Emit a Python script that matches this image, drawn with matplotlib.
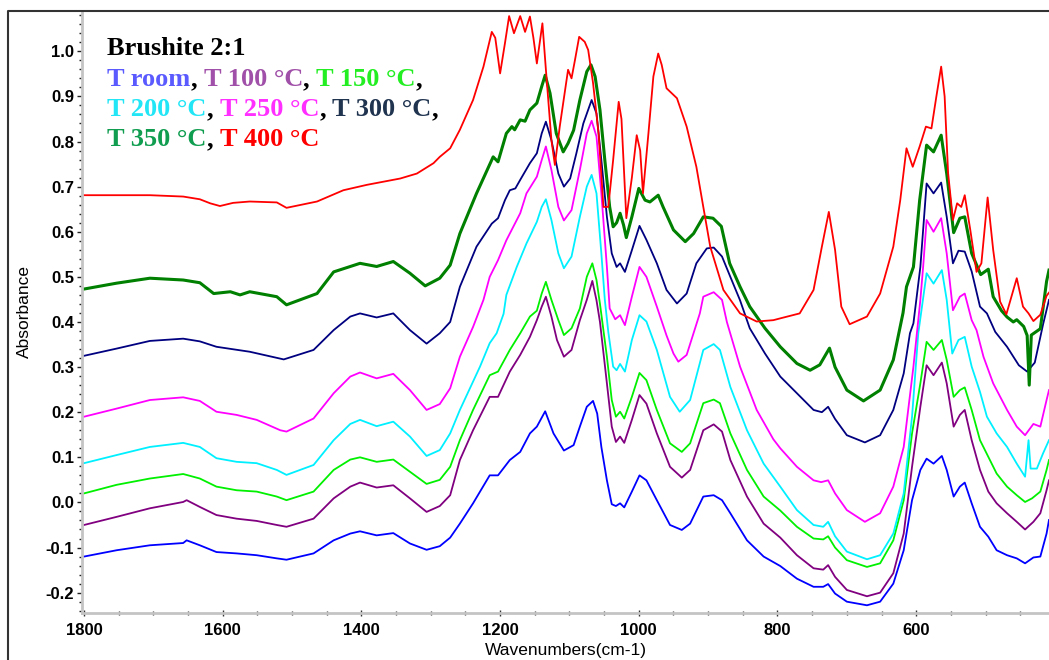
import matplotlib
matplotlib.use("Agg")
import matplotlib.pyplot as plt
from matplotlib.ticker import MultipleLocator, FormatStrFormatter
from matplotlib.lines import Line2D

plt.rcParams["axes.unicode_minus"] = False

# ---- spectra (wavenumber cm-1, absorbance) ----
wn_room = [1800, 1753, 1705, 1657, 1652, 1633, 1609, 1580, 1551, 1522, 1508, 1469, 1440, 1416, 1402,
           1378, 1354, 1330, 1306, 1287, 1272, 1258, 1239, 1215, 1203, 1186, 1171, 1157, 1147, 1135,
           1123, 1108, 1094, 1085, 1075, 1066, 1060, 1054, 1046, 1039, 1033, 1027, 1021, 1010, 999,
           989, 974, 955, 938, 926, 907, 892, 880, 868, 844, 820, 796, 772, 748, 734, 727, 717, 700,
           671, 652, 633, 618, 606, 594, 585, 575, 563, 556, 546, 537, 530, 520, 508, 496, 484, 469,
           455, 443, 431, 421, 412, 408.5]
ab_room = [-0.120, -0.106, -0.095, -0.090, -0.084, -0.095, -0.110, -0.113, -0.117, -0.124, -0.127,
           -0.113, -0.084, -0.069, -0.064, -0.073, -0.068, -0.091, -0.105, -0.097, -0.078, -0.047,
           -0.002, 0.060, 0.060, 0.094, 0.112, 0.153, 0.168, 0.202, 0.153, 0.115, 0.127, 0.168, 0.212,
           0.225, 0.197, 0.123, 0.049, -0.004, -0.008, -0.002, -0.011, 0.024, 0.060, 0.049, 0.005,
           -0.050, -0.061, -0.047, 0.013, 0.016, 0.005, -0.024, -0.084, -0.120, -0.141, -0.169, -0.187,
           -0.187, -0.181, -0.202, -0.220, -0.228, -0.220, -0.180, -0.106, 0.005, 0.072, 0.097, 0.086,
           0.103, 0.072, 0.013, 0.035, 0.044, -0.002, -0.054, -0.076, -0.106, -0.117, -0.124, -0.135,
           -0.122, -0.120, -0.069, -0.039]

wn_100 = [1800, 1753, 1705, 1657, 1652, 1633, 1609, 1580, 1551, 1522, 1508, 1469, 1440, 1416, 1402,
          1378, 1354, 1330, 1306, 1287, 1272, 1258, 1239, 1215, 1203, 1186, 1171, 1157, 1147, 1140,
          1134, 1126, 1118, 1108, 1097, 1085, 1075, 1067, 1061, 1056, 1046, 1039, 1033, 1027, 1021,
          1010, 999, 989, 974, 955, 938, 926, 907, 892, 880, 868, 844, 820, 796, 772, 748, 734, 727,
          717, 700, 671, 652, 633, 618, 606, 594, 585, 575, 563, 556, 546, 537, 530, 520, 508, 496,
          484, 469, 455, 443, 431, 421, 412, 408.5]
ab_100 = [-0.050, -0.032, -0.013, 0.001, 0.005, -0.010, -0.028, -0.036, -0.041, -0.050, -0.054,
          -0.036, 0.009, 0.035, 0.044, 0.033, 0.038, 0.009, -0.021, -0.008, 0.016, 0.094, 0.160,
          0.234, 0.234, 0.290, 0.327, 0.367, 0.404, 0.434, 0.456, 0.412, 0.360, 0.323, 0.338, 0.404,
          0.449, 0.491, 0.448, 0.400, 0.264, 0.168, 0.134, 0.146, 0.132, 0.183, 0.238, 0.219, 0.153,
          0.079, 0.055, 0.072, 0.160, 0.173, 0.157, 0.094, 0.013, -0.047, -0.078, -0.117, -0.146,
          -0.149, -0.139, -0.165, -0.194, -0.208, -0.200, -0.157, -0.069, 0.079, 0.212, 0.304, 0.282,
          0.310, 0.264, 0.168, 0.194, 0.205, 0.138, 0.072, 0.024, -0.002, -0.024, -0.043, -0.060,
          -0.043, -0.024, 0.027, 0.049]

wn_150 = [1800, 1753, 1705, 1657, 1633, 1609, 1580, 1551, 1522, 1508, 1469, 1440, 1416, 1402, 1378,
          1354, 1330, 1306, 1287, 1272, 1258, 1239, 1215, 1203, 1186, 1171, 1157, 1147, 1140, 1134,
          1126, 1116, 1108, 1097, 1085, 1075, 1067, 1061, 1056, 1046, 1039, 1033, 1027, 1021, 1010,
          999, 989, 974, 955, 938, 926, 907, 892, 883, 868, 844, 820, 796, 772, 748, 734, 727, 717,
          700, 671, 652, 633, 618, 606, 594, 585, 575, 563, 556, 546, 537, 530, 520, 508, 496, 484,
          469, 455, 443, 433, 421, 412, 408.5]
ab_150 = [0.020, 0.039, 0.053, 0.063, 0.053, 0.035, 0.027, 0.024, 0.013, 0.005, 0.024, 0.072, 0.095,
          0.100, 0.090, 0.095, 0.068, 0.041, 0.050, 0.079, 0.138, 0.205, 0.282, 0.290, 0.338, 0.375,
          0.412, 0.425, 0.463, 0.489, 0.449, 0.404, 0.371, 0.386, 0.430, 0.500, 0.530, 0.493, 0.440,
          0.323, 0.227, 0.190, 0.201, 0.186, 0.234, 0.287, 0.271, 0.205, 0.131, 0.112, 0.131, 0.220,
          0.228, 0.220, 0.153, 0.072, 0.013, -0.018, -0.054, -0.080, -0.082, -0.075, -0.100, -0.128,
          -0.143, -0.135, -0.084, 0.005, 0.153, 0.264, 0.356, 0.338, 0.360, 0.316, 0.234, 0.249, 0.255,
          0.205, 0.138, 0.101, 0.064, 0.035, 0.016, 0.001, 0.009, 0.024, 0.072, 0.094]

wn_200 = [1800, 1753, 1705, 1657, 1633, 1609, 1580, 1551, 1522, 1508, 1469, 1440, 1416, 1402, 1378,
          1354, 1330, 1306, 1287, 1272, 1258, 1229, 1215, 1205, 1195, 1191, 1176, 1162, 1147, 1140,
          1134, 1126, 1116, 1108, 1097, 1085, 1075, 1068, 1061, 1054, 1049, 1044, 1037, 1032, 1027,
          1020, 1010, 999, 989, 974, 955, 941, 926, 907, 892, 883, 868, 844, 820, 796, 772, 748, 734,
          727, 717, 700, 671, 652, 633, 618, 606, 597, 585, 575, 563, 556, 548, 539, 530, 520, 508,
          498, 484, 469, 455, 443, 438, 435, 426, 417, 408.5]
ab_200 = [0.087, 0.105, 0.123, 0.132, 0.123, 0.098, 0.090, 0.087, 0.072, 0.061, 0.083, 0.138, 0.174,
          0.183, 0.169, 0.179, 0.146, 0.103, 0.116, 0.153, 0.205, 0.301, 0.353, 0.375, 0.418, 0.460,
          0.522, 0.574, 0.622, 0.655, 0.672, 0.626, 0.552, 0.519, 0.545, 0.633, 0.700, 0.726, 0.685,
          0.552, 0.449, 0.378, 0.301, 0.293, 0.307, 0.290, 0.360, 0.415, 0.401, 0.338, 0.234, 0.201,
          0.227, 0.338, 0.351, 0.338, 0.256, 0.160, 0.086, 0.035, -0.017, -0.050, -0.054, -0.043,
          -0.075, -0.109, -0.126, -0.117, -0.069, 0.020, 0.190, 0.375, 0.508, 0.485, 0.515, 0.449,
          0.330, 0.360, 0.367, 0.301, 0.245, 0.190, 0.153, 0.123, 0.086, 0.057, 0.138, 0.075, 0.075,
          0.109, 0.138]

wn_250 = [1800, 1753, 1705, 1657, 1633, 1609, 1580, 1551, 1517, 1508, 1469, 1440, 1416, 1402, 1378,
          1354, 1330, 1306, 1287, 1272, 1258, 1239, 1224, 1215, 1203, 1191, 1181, 1171, 1162, 1147,
          1140, 1134, 1126, 1116, 1108, 1097, 1085, 1075, 1068, 1061, 1054, 1046, 1042, 1034, 1027,
          1020, 1010, 999, 989, 974, 960, 950, 943, 931, 912, 907, 892, 880, 873, 854, 830, 806, 796,
          772, 748, 737, 727, 717, 700, 674, 652, 633, 618, 604, 594, 590, 585, 575, 564, 556, 547,
          537, 530, 520, 513, 503, 489, 469, 455, 443, 431, 421, 412, 408.5]
ab_250 = [0.190, 0.208, 0.227, 0.233, 0.225, 0.201, 0.194, 0.183, 0.160, 0.157, 0.186, 0.242, 0.279,
          0.288, 0.275, 0.285, 0.249, 0.205, 0.218, 0.253, 0.323, 0.389, 0.449, 0.500, 0.537, 0.581,
          0.611, 0.641, 0.685, 0.722, 0.759, 0.789, 0.737, 0.655, 0.625, 0.648, 0.737, 0.818, 0.846,
          0.811, 0.685, 0.522, 0.430, 0.406, 0.415, 0.393, 0.456, 0.522, 0.500, 0.434, 0.370, 0.330,
          0.312, 0.327, 0.419, 0.456, 0.466, 0.449, 0.400, 0.301, 0.205, 0.140, 0.120, 0.079, 0.049,
          0.045, 0.049, 0.020, -0.017, -0.043, -0.024, 0.035, 0.123, 0.301, 0.449, 0.522, 0.626, 0.600,
          0.630, 0.552, 0.426, 0.456, 0.463, 0.404, 0.382, 0.323, 0.264, 0.205, 0.168, 0.149, 0.174,
          0.168, 0.227, 0.249]

wn_300 = [1800, 1753, 1705, 1657, 1633, 1609, 1561, 1512, 1469, 1440, 1416, 1402, 1378, 1354, 1330,
          1306, 1287, 1272, 1258, 1234, 1212, 1203, 1193, 1186, 1178, 1171, 1157, 1147, 1140, 1134,
          1126, 1116, 1108, 1099, 1090, 1080, 1068, 1061, 1054, 1046, 1039, 1032, 1027, 1020, 1010,
          999, 989, 974, 960, 945, 931, 917, 902, 892, 880, 868, 854, 840, 818, 796, 772, 748, 736,
          727, 717, 700, 674, 652, 633, 618, 609, 604, 594, 585, 575, 564, 556, 547, 539, 530, 520,
          508, 498, 486, 469, 452, 440, 429, 417, 408.5]
ab_300 = [0.325, 0.341, 0.358, 0.363, 0.357, 0.345, 0.334, 0.317, 0.338, 0.382, 0.412, 0.419, 0.410,
          0.419, 0.382, 0.352, 0.375, 0.400, 0.478, 0.567, 0.618, 0.630, 0.670, 0.692, 0.696, 0.715,
          0.752, 0.774, 0.818, 0.844, 0.803, 0.729, 0.700, 0.718, 0.774, 0.840, 0.892, 0.862, 0.759,
          0.633, 0.552, 0.522, 0.530, 0.511, 0.559, 0.613, 0.582, 0.530, 0.471, 0.441, 0.463, 0.530,
          0.563, 0.565, 0.545, 0.500, 0.448, 0.386, 0.330, 0.279, 0.242, 0.205, 0.200, 0.212, 0.185,
          0.149, 0.133, 0.149, 0.205, 0.286, 0.375, 0.397, 0.522, 0.707, 0.685, 0.709, 0.633, 0.530,
          0.558, 0.556, 0.512, 0.434, 0.419, 0.378, 0.345, 0.304, 0.290, 0.310, 0.395, 0.449]

wn_350 = [1800, 1753, 1705, 1657, 1633, 1613, 1589, 1575, 1561, 1522, 1508, 1464, 1440, 1402, 1378,
          1354, 1330, 1308, 1287, 1272, 1258, 1234, 1210, 1203, 1191, 1183, 1179, 1171, 1164, 1157,
          1147, 1140, 1135, 1128, 1119, 1109, 1102, 1094, 1085, 1075, 1069, 1063, 1056, 1049, 1042,
          1037, 1032, 1027, 1022, 1018, 1010, 1000, 991, 984, 972, 965, 950, 933, 921, 907, 893, 881,
          869, 854, 840, 818, 796, 772, 753, 739, 725, 717, 700, 676, 652, 633, 619, 614, 604, 595,
          585, 575, 564, 556, 546, 537, 530, 520, 507, 496, 489, 477, 469, 460, 455, 445, 440, 437,
          434, 421, 412, 408.5]
ab_350 = [0.473, 0.486, 0.497, 0.493, 0.487, 0.463, 0.467, 0.460, 0.467, 0.456, 0.438, 0.463, 0.511,
          0.530, 0.523, 0.534, 0.508, 0.480, 0.497, 0.526, 0.596, 0.685, 0.766, 0.755, 0.818, 0.833,
          0.826, 0.848, 0.845, 0.870, 0.885, 0.922, 0.947, 0.907, 0.818, 0.777, 0.796, 0.825, 0.892,
          0.955, 0.970, 0.944, 0.870, 0.759, 0.655, 0.611, 0.620, 0.641, 0.615, 0.587, 0.633, 0.696,
          0.670, 0.666, 0.681, 0.655, 0.604, 0.578, 0.596, 0.633, 0.630, 0.612, 0.530, 0.478, 0.434,
          0.386, 0.345, 0.308, 0.293, 0.305, 0.342, 0.300, 0.249, 0.225, 0.249, 0.316, 0.420, 0.478,
          0.522, 0.670, 0.792, 0.777, 0.814, 0.729, 0.598, 0.630, 0.633, 0.552, 0.505, 0.517, 0.456,
          0.425, 0.411, 0.400, 0.405, 0.390, 0.370, 0.260, 0.371, 0.385, 0.490, 0.515]

wn_400 = [1800, 1753, 1705, 1657, 1633, 1618, 1604, 1585, 1561, 1522, 1508, 1464, 1426, 1392, 1344,
          1320, 1296, 1287, 1272, 1258, 1239, 1224, 1212, 1207, 1200, 1193, 1187, 1180, 1171, 1164,
          1157, 1152, 1147, 1139, 1134, 1126, 1121, 1114, 1102, 1097, 1092, 1086, 1078, 1073, 1066,
          1058, 1051, 1044, 1037, 1029, 1025, 1018, 1010, 1003, 998, 994, 986, 979, 972, 967, 960,
          945, 931, 917, 907, 897, 878, 854, 830, 806, 796, 768, 748, 736, 726, 717, 708, 696, 671,
          652, 633, 623, 614, 605, 595, 586, 578, 571, 564, 559, 554, 547, 541, 535, 530, 522, 513,
          506, 497, 489, 479, 470, 455, 446, 438, 431, 421, 412, 408.5]
ab_400 = [0.681, 0.681, 0.681, 0.678, 0.672, 0.663, 0.657, 0.664, 0.667, 0.665, 0.653, 0.667, 0.692,
          0.704, 0.718, 0.729, 0.752, 0.766, 0.785, 0.826, 0.892, 0.966, 1.043, 1.030, 0.951, 1.018,
          1.078, 1.040, 1.078, 1.043, 1.077, 1.030, 0.973, 1.062, 0.960, 0.803, 0.748, 0.833, 0.959,
          0.940, 0.981, 1.032, 1.021, 1.003, 0.930, 0.818, 0.655, 0.655, 0.759, 0.888, 0.850, 0.630,
          0.720, 0.814, 0.780, 0.685, 0.820, 0.944, 0.995, 0.970, 0.918, 0.896, 0.833, 0.744, 0.655,
          0.567, 0.471, 0.419, 0.401, 0.404, 0.408, 0.419, 0.471, 0.567, 0.644, 0.560, 0.434, 0.395,
          0.412, 0.463, 0.567, 0.670, 0.785, 0.744, 0.789, 0.833, 0.829, 0.899, 0.966, 0.900, 0.730,
          0.626, 0.663, 0.655, 0.681, 0.604, 0.511, 0.530, 0.676, 0.560, 0.445, 0.417, 0.497, 0.434,
          0.419, 0.402, 0.416, 0.458, 0.465]

series = [
    (wn_room, ab_room, "#0000ff", 1.3),
    (wn_100, ab_100, "#800080", 1.3),
    (wn_150, ab_150, "#00f000", 1.3),
    (wn_200, ab_200, "#00f0ff", 1.3),
    (wn_250, ab_250, "#ff00ff", 1.3),
    (wn_300, ab_300, "#000080", 1.3),
    (wn_350, ab_350, "#008000", 2.2),
    (wn_400, ab_400, "#ff0000", 1.3),
]

# coloured title lines (text, colour)
title_lines = [
    [("Brushite 2:1", "black")],
    [("T room", "#5a5aff"), (",", "black"), ("T 100 °C", "#a050a8"), (",", "black"),
     ("T 150 °C", "#22ee22"), (",", "black")],
    [("T 200 °C", "#22e6f6"), (",", "black"), ("T 250 °C", "#ff30ff"), (",", "black"),
     ("T 300 °C", "#203450"), (",", "black")],
    [("T 350 °C", "#109d50"), (",", "black"), ("T 400 °C", "#ff0000")],
]

W, H = 1049, 660
fig = plt.figure(figsize=(W / 100, H / 100), dpi=100)
ax = fig.add_axes([82 / W, 47 / H, 1 - 82 / W, (613 - 11) / H])

for wn, ab, col, lw in series:
    ax.plot(wn, ab, color=col, lw=lw, solid_joinstyle="round")

ax.set_xlim(1802.9, 408.5)
ax.set_ylim(-0.2451, 1.0893)

ax.xaxis.set_major_locator(MultipleLocator(200))
ax.xaxis.set_minor_locator(MultipleLocator(50))
ax.yaxis.set_major_locator(MultipleLocator(0.1))
ax.yaxis.set_minor_locator(MultipleLocator(0.02))
ax.yaxis.set_major_formatter(FormatStrFormatter("%.1f"))

tick_font = dict(family=["Liberation Sans", "DejaVu Sans"], weight="bold", size=12)
ax.tick_params(axis="y", which="major", direction="out", length=3.5, width=1, color="#222222", pad=2)
ax.tick_params(axis="y", which="minor", direction="out", length=2.5, width=1, color="#222222")
ax.tick_params(axis="x", which="major", direction="inout", length=4, width=1, color="#333333", pad=5)
ax.tick_params(axis="x", which="minor", direction="inout", length=3, width=1, color="#333333")
for lab in ax.get_xticklabels() + ax.get_yticklabels():
    lab.set_fontfamily(tick_font["family"])
    lab.set_fontweight("bold")
    lab.set_fontsize(12)

for side in ("top", "right"):
    ax.spines[side].set_visible(False)
for side in ("left", "bottom"):
    ax.spines[side].set_color("#c4c4c4")
    ax.spines[side].set_linewidth(2)

ax.set_xlabel("Wavenumbers(cm-1)", fontsize=12.5, family=["Liberation Sans", "DejaVu Sans"], labelpad=4)
ax.set_ylabel("Absorbance", fontsize=12.5, family=["Liberation Sans", "DejaVu Sans"], labelpad=10)

# outer frame (left and top edges of the screenshot)
fig.add_artist(Line2D([8 / W, 8 / W, 1], [0, 1 - 11 / H, 1 - 11 / H],
                      transform=fig.transFigure, color="#333333", lw=1.5))

# multi-coloured annotation block
serif = ["Liberation Serif", "DejaVu Serif"]
baselines = [55, 86, 116.5, 146]
space_pt = 4.8
for line, yb in zip(title_lines, baselines):
    prev = None
    for txt, col in line:
        if prev is None:
            prev = fig.text(107 / W, 1 - yb / H, txt, color=col, family=serif,
                            weight="bold", size=19, va="baseline", ha="left")
        else:
            gap = 0 if txt == "," else space_pt
            prev = ax.annotate(txt, xy=(1, 0), xycoords=prev, xytext=(gap, 0),
                               textcoords="offset points", color=col, family=serif,
                               weight="bold", size=19, va="bottom", ha="left",
                               annotation_clip=False)

fig.savefig("out.png", dpi=100)
